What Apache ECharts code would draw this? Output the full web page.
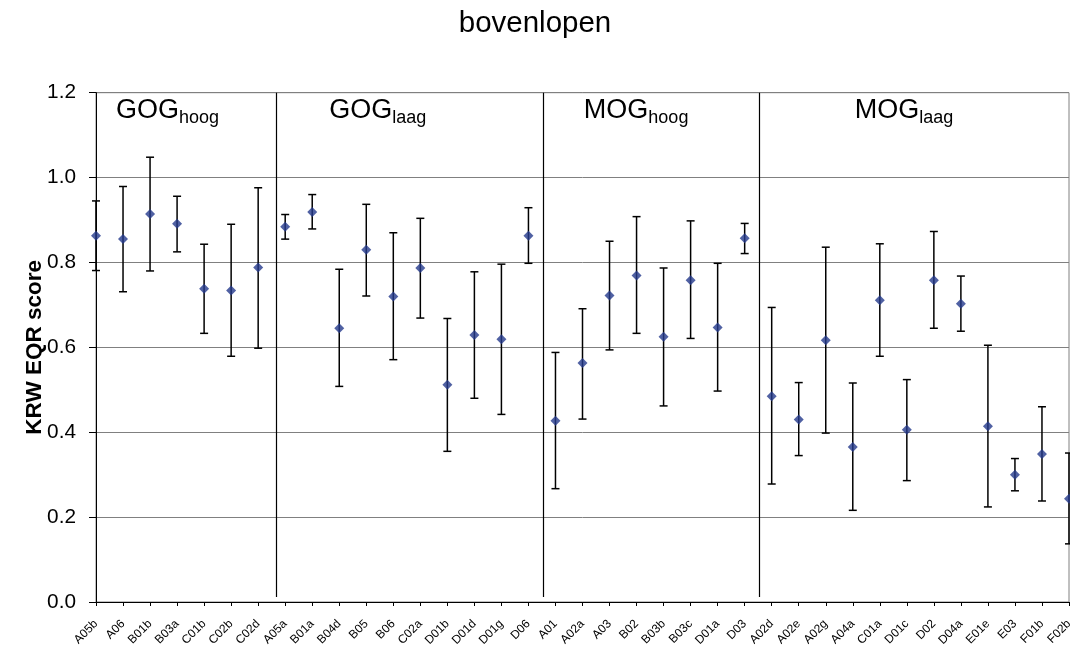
<!DOCTYPE html>
<html>
<head>
<meta charset="utf-8">
<title>bovenlopen</title>
<script src="https://cdn.jsdelivr.net/npm/echarts@6/dist/echarts.min.js"></script>
<style>
  html, body { margin: 0; padding: 0; background: #ffffff; }
  #chart { width: 1070px; height: 646px; }
</style>
</head>
<body>
<div id="chart"></div>
<script>
// Sites along the x axis, grouped by water type
const categories = [
  'A05b', 'A06', 'B01b', 'B03a', 'C01b', 'C02b', 'C02d',
  'A05a', 'B01a', 'B04d', 'B05', 'B06', 'C02a', 'D01b', 'D01d', 'D01g', 'D06',
  'A01', 'A02a', 'A03', 'B02', 'B03b', 'B03c', 'D01a', 'D03',
  'A02d', 'A02e', 'A02g', 'A04a', 'C01a', 'D01c', 'D02', 'D04a', 'E01e', 'E03', 'F01b', 'F02b'
];

// Mean KRW EQR score per site
const meanScore = [
  0.863, 0.855, 0.914, 0.891, 0.738, 0.734, 0.788,
  0.884, 0.919, 0.645, 0.830, 0.720, 0.787, 0.512, 0.629, 0.619, 0.863,
  0.427, 0.563, 0.722, 0.769, 0.625, 0.758, 0.647, 0.857,
  0.485, 0.430, 0.617, 0.365, 0.711, 0.406, 0.758, 0.703, 0.414, 0.300, 0.349, 0.243
];

// Upper end of the error bar per site
const upperScore = [
  0.945, 0.979, 1.048, 0.956, 0.843, 0.890, 0.976,
  0.913, 0.960, 0.784, 0.937, 0.870, 0.904, 0.668, 0.778, 0.796, 0.929,
  0.588, 0.691, 0.850, 0.908, 0.787, 0.898, 0.798, 0.892,
  0.694, 0.517, 0.836, 0.516, 0.844, 0.524, 0.873, 0.768, 0.605, 0.338, 0.460, 0.351
];

// Lower end of the error bar per site
const lowerScore = [
  0.781, 0.731, 0.780, 0.825, 0.633, 0.579, 0.598,
  0.855, 0.879, 0.508, 0.721, 0.571, 0.669, 0.355, 0.480, 0.442, 0.798,
  0.267, 0.431, 0.594, 0.633, 0.462, 0.621, 0.497, 0.821,
  0.278, 0.345, 0.398, 0.216, 0.579, 0.286, 0.645, 0.638, 0.224, 0.262, 0.238, 0.137
];

// Water type groups: name and subscript
const groupMain = ['GOG', 'GOG', 'MOG', 'MOG'];
const groupSub = ['hoog', 'laag', 'hoog', 'laag'];

// Y axis ticks
const yMin = 0, yMax = 1.2, yStep = 0.2;

// Layout: where the group dividers and group headings sit along the site axis
const dividerAt = [6.66, 16.55, 24.54];
const groupLabelAt = [0.74, 8.63, 18.05, 28.07];

const FONT = '"Liberation Sans", Arial, Helvetica, sans-serif';
const MARKER = '#243A8C';

const measureCtx = document.createElement('canvas').getContext('2d');
function textWidth(str, size) {
  measureCtx.font = size + 'px ' + FONT;
  return measureCtx.measureText(str).width;
}

const points = meanScore.map((v, i) => [i, v]);
const bars = meanScore.map((v, i) => [i, lowerScore[i], upperScore[i]]);
const headings = groupMain.map((m, i) => [groupLabelAt[i], yMax, m, groupSub[i]]);
const dividers = dividerAt.map(x => [{ coord: [x, yMax] }, { coord: [x, 0.012] }]);

const chart = echarts.init(document.getElementById('chart'), null, { renderer: 'canvas' });

chart.setOption({
  backgroundColor: '#ffffff',
  animation: false,
  textStyle: { fontFamily: FONT, color: '#000' },
  title: {
    text: 'bovenlopen',
    left: 'center',
    top: 4,
    textStyle: { fontFamily: FONT, fontSize: 29.5, fontWeight: 'normal', color: '#000' }
  },
  grid: {
    left: 96, right: 1, top: 92.7, bottom: 44,
    containLabel: false,
    outerBoundsMode: 'none',
    show: true, borderColor: '#808080', borderWidth: 1, backgroundColor: 'transparent'
  },
  xAxis: {
    type: 'value',
    min: 0, max: categories.length - 1, interval: 1,
    axisLine: { show: true, onZero: false, lineStyle: { color: '#000', width: 1 } },
    axisTick: { show: true, length: 4, lineStyle: { color: '#000', width: 1 } },
    splitLine: { show: false },
    axisLabel: {
      rotate: 45, margin: 20, fontSize: 12, color: '#000', fontFamily: FONT,
      showMinLabel: true, showMaxLabel: true, hideOverlap: false,
      formatter: v => categories[Math.round(v)] || ''
    }
  },
  yAxis: {
    type: 'value',
    min: yMin, max: yMax, interval: yStep,
    name: 'KRW EQR score',
    nameLocation: 'middle',
    nameGap: 50,
    nameMoveOverlap: false,
    nameTextStyle: { fontFamily: FONT, fontSize: 22.5, fontWeight: 'bold', color: '#000' },
    axisLine: { show: true, lineStyle: { color: '#000', width: 1 } },
    axisTick: { show: true, length: 7, lineStyle: { color: '#000', width: 1 } },
    splitLine: { show: true, lineStyle: { color: '#808080', width: 1 } },
    axisLabel: {
      margin: 20, fontSize: 20.8, color: '#000', fontFamily: FONT,
      formatter: v => v.toFixed(1)
    }
  },
  series: [
    {
      // error bars with caps
      type: 'custom',
      z: 2,
      data: bars,
      renderItem: (params, api) => {
        const x = api.value(0);
        const lo = api.coord([x, api.value(1)]);
        const hi = api.coord([x, api.value(2)]);
        const cap = 4;
        const style = { stroke: '#000', lineWidth: 1.5 };
        return {
          type: 'group',
          children: [
            { type: 'line', shape: { x1: lo[0], y1: lo[1], x2: hi[0], y2: hi[1] }, style },
            { type: 'line', shape: { x1: hi[0] - cap, y1: hi[1], x2: hi[0] + cap, y2: hi[1] }, style },
            { type: 'line', shape: { x1: lo[0] - cap, y1: lo[1], x2: lo[0] + cap, y2: lo[1] }, style }
          ]
        };
      }
    },
    {
      // mean scores
      type: 'scatter',
      z: 3,
      symbol: 'diamond',
      symbolSize: [10, 10],
      itemStyle: { color: MARKER },
      data: points,
      markLine: {
        silent: true,
        symbol: ['none', 'none'],
        label: { show: false },
        lineStyle: { color: '#000', width: 1.2, type: 'solid' },
        data: dividers
      }
    },
    {
      // group headings with subscript
      type: 'custom',
      z: 4,
      data: headings,
      renderItem: (params, api) => {
        const p = api.coord([api.value(0), api.value(1)]);
        const main = headings[params.dataIndex][2];
        const sub = headings[params.dataIndex][3];
        const mainSize = 27, subSize = 18;
        const w = textWidth(main, mainSize);
        return {
          type: 'group',
          children: [
            {
              type: 'text',
              style: {
                text: main, x: p[0], y: p[1] + 18.3,
                fontSize: mainSize, fontFamily: FONT, fill: '#000',
                align: 'left', verticalAlign: 'middle'
              }
            },
            {
              type: 'text',
              style: {
                text: sub, x: p[0] + w, y: p[1] + 25.8,
                fontSize: subSize, fontFamily: FONT, fill: '#000',
                align: 'left', verticalAlign: 'middle'
              }
            }
          ]
        };
      }
    }
  ]
});
</script>
</body>
</html>
